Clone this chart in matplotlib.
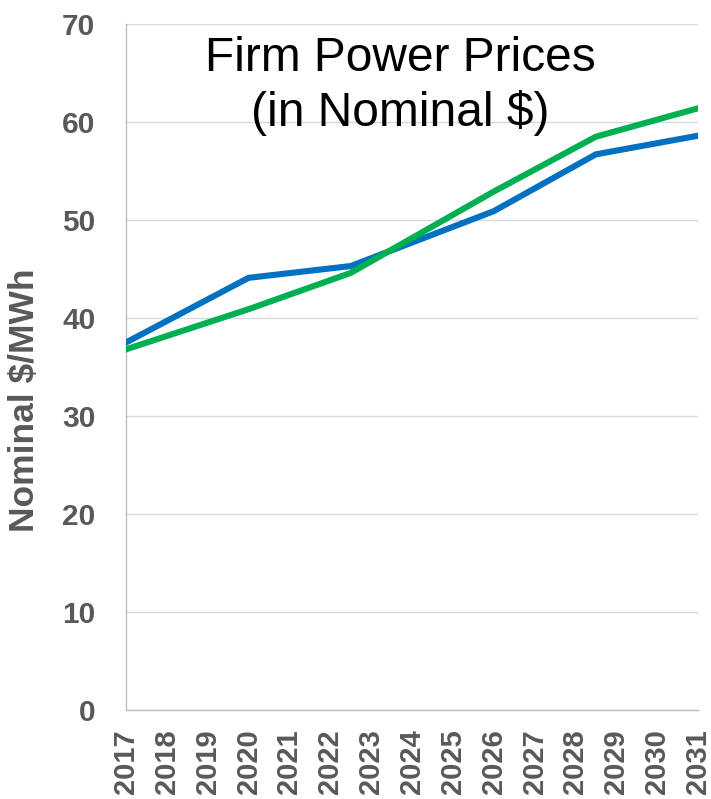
import matplotlib
matplotlib.use("Agg")
import matplotlib.pyplot as plt

# Price series (nominal $/MWh)
blue_years = [2017, 2020, 2022.5, 2026, 2028.5, 2031]
blue_prices = [37.5, 44.1, 45.3, 50.9, 56.7, 58.6]

green_years = [2017, 2020, 2022.5, 2026, 2028.5, 2031]
green_prices = [36.8, 40.9, 44.6, 52.9, 58.5, 61.4]

year_ticks = list(range(2017, 2032))
price_ticks = [0, 10, 20, 30, 40, 50, 60, 70]

BLUE = "#0070C0"
GREEN = "#00B050"
LABEL_GRAY = "#595959"
GRID_GRAY = "#D9D9D9"
SPINE_GRAY = "#BFBFBF"

plt.rcParams["font.family"] = ["Liberation Sans", "DejaVu Sans"]

fig = plt.figure(figsize=(7.11, 7.99), dpi=100)
ax = fig.add_axes([126 / 711, 89 / 799, 572 / 711, 686 / 799])

ax.plot(blue_years, blue_prices, color=BLUE, lw=4.4, solid_joinstyle="miter", zorder=3)
ax.plot(green_years, green_prices, color=GREEN, lw=4.4, solid_joinstyle="miter", zorder=3)

ax.set_xlim(2017, 2031)
ax.set_ylim(0, 70)
ax.set_xticks(year_ticks)
ax.set_xticklabels([str(y) for y in year_ticks], rotation=90,
                   fontsize=21, fontweight="bold", color=LABEL_GRAY)
ax.set_yticks(price_ticks)
ax.set_yticklabels([str(v) for v in price_ticks],
                   fontsize=21.5, fontweight="bold", color=LABEL_GRAY)
ax.tick_params(axis="both", length=0)
ax.tick_params(axis="y", pad=22)
ax.tick_params(axis="x", pad=14)

ax.grid(axis="y", color=GRID_GRAY, lw=1.0)
ax.set_axisbelow(True)
for side in ("top", "right"):
    ax.spines[side].set_visible(False)
for side in ("left", "bottom"):
    ax.spines[side].set_color(SPINE_GRAY)
    ax.spines[side].set_linewidth(1.0)

fig.text(25 / 711, 1 - 400 / 799, "Nominal $/MWh", rotation=90,
         ha="center", va="center", fontsize=25.5, fontweight="bold",
         color=LABEL_GRAY)

fig.text(400 / 711, 1 - 86 / 799, "Firm Power Prices\n(in Nominal $)",
         ha="center", va="center", multialignment="center",
         fontsize=34.5, color="black", linespacing=1.25)

fig.savefig("out.png", dpi=100)
